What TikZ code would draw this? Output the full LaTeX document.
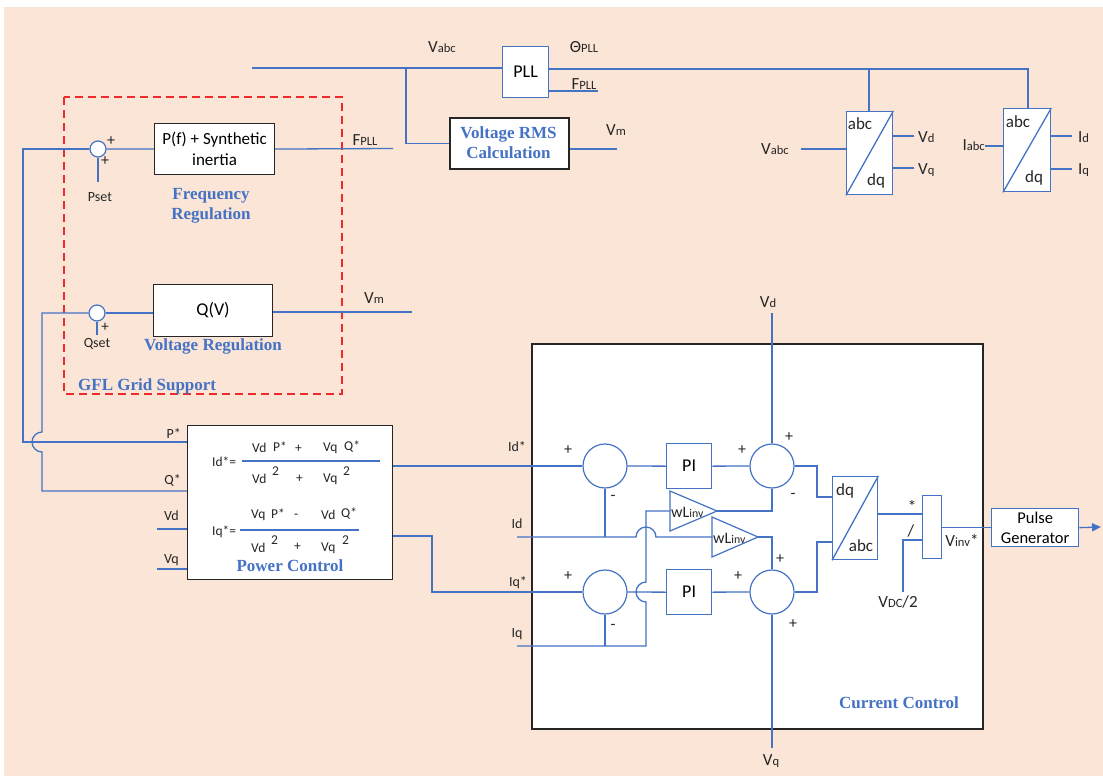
\documentclass[tikz,border=0pt]{standalone}
\usepackage{graphicx}
\usepackage{fontspec}
\setmainfont{Carlito}
\newfontfamily\tnr{Liberation Serif}
\usetikzlibrary{arrows.meta}
\definecolor{peach}{HTML}{FAE5D6}
\definecolor{lb}{HTML}{4472C4}
\definecolor{rd}{HTML}{EE2A2A}
\newcommand\lsub[1]{\scalebox{0.74}{#1}}
\newcommand\fs[1]{\fontsize{#1}{#1}\selectfont}
\begin{document}
\begin{tikzpicture}[x=1pt,y=-1pt,
  wire/.style={draw=lb,line width=1.3pt},
  bbox/.style={draw=lb,line width=1.3pt,fill=white,inner sep=0pt,anchor=north west},
  kbox/.style={draw=black!85,line width=1.3pt,fill=white,inner sep=0pt,anchor=north west,align=center},
  sumc/.style={circle,draw=lb,line width=1.2pt,fill=white,minimum size=44pt,inner sep=0pt},
  smc/.style={circle,draw=lb,line width=1.2pt,fill=white,minimum size=16pt,inner sep=0pt},
  lbl/.style={text=black!85,inner sep=0pt,font=\fs{17}},
  slbl/.style={text=black!85,inner sep=0pt,font=\fs{14}},
  sgn/.style={text=black!85,inner sep=0pt,font=\fs{16}},
  eq/.style={text=black!85,inner sep=0pt,anchor=west,font=\fs{13.5}},
  blu/.style={text=lb,inner sep=0pt,align=center,font=\tnr\bfseries\fs{17}}]
\useasboundingbox (0,0) rectangle (1103,776);
\fill[white] (0,0) rectangle (1103,776);
\fill[peach] (4,7) rectangle (1103,776);

% ---------- top: PLL, RMS, abc/dq ----------
\node[bbox,minimum width=46pt,minimum height=51pt,font=\fs{18}] (pll) at (502,46) {PLL};
\node[kbox,minimum width=119pt,minimum height=51pt,line width=2pt] (rms) at (449,117) {};
\node[blu] (rmst) at (508.5,142.5) {Voltage RMS\\[3pt]Calculation};
\coordinate (vin) at (252,68);
\coordinate (br1) at (406,68);
\draw[wire] (vin) -- (vin -| pll.west);
\draw[wire] (br1) |- (rms.west);
\coordinate (fpllo) at (598,91);
\draw[wire] (pll.east |- fpllo) -- (fpllo);
\coordinate (rmso) at (617,149);
\draw[wire] (rms.east |- rmso) -- (rmso);
\node[lbl] (vabct) at (442,47) {V\lsub{abc}};
\node[lbl] (thpll) at (584,47) {Θ\lsub{PLL}};
\node[lbl] (fpllt) at (584,84) {F\lsub{PLL}};
\node[lbl] (vmt1) at (616,130) {V\lsub{m}};

\node[bbox,minimum width=46pt,minimum height=83pt] (abc1) at (846,111) {};
\draw[lb,line width=1.3pt] (abc1.south west) -- (abc1.north east);
\node[lbl] (abc1a) at (860,124) {abc};
\node[lbl] (abc1d) at (876,181) {dq};
\node[bbox,minimum width=47pt,minimum height=83pt] (abc2) at (1003,108) {};
\draw[lb,line width=1.3pt] (abc2.south west) -- (abc2.north east);
\node[lbl] (abc2a) at (1018,122) {abc};
\node[lbl] (abc2d) at (1034,178) {dq};
\coordinate (th) at (1028,69);
\draw[wire] (pll.east |- th) -- (th) -- (th |- abc2.north);
\coordinate (th1) at (869,69);
\draw[wire] (th1) -- (th1 |- abc1.north);

\coordinate (vabcin) at (801,149);
\draw[wire] (vabcin) -- (vabcin -| abc1.west);
\node[lbl] (vabct2) at (775,149) {V\lsub{abc}};
\coordinate (vdo) at (914,136);
\coordinate (vqo) at (914,168);
\draw[wire] (vdo -| abc1.east) -- (vdo);
\draw[wire] (vqo -| abc1.east) -- (vqo);
\node[lbl,anchor=west] (vdt) at (918,137) {V\lsub{d}};
\node[lbl,anchor=west] (vqt) at (918,170) {V\lsub{q}};
\coordinate (iabcin) at (985,146);
\draw[wire] (iabcin) -- (iabcin -| abc2.west);
\node[lbl,anchor=east] (iabct) at (985,145) {I\lsub{abc}};
\coordinate (ido) at (1072,136);
\coordinate (iqo) at (1072,169);
\draw[wire] (ido -| abc2.east) -- (ido);
\draw[wire] (iqo -| abc2.east) -- (iqo);
\node[lbl,anchor=west] (idt) at (1078,137) {I\lsub{d}};
\node[lbl,anchor=west] (iqt) at (1078,170) {I\lsub{q}};

% ---------- GFL grid support ----------
\draw[rd,line width=1.6pt,dash pattern=on 8pt off 5pt] (64,97) rectangle (342,394);
\node[smc] (s1) at (98,149) {};
\node[kbox,minimum width=120pt,minimum height=51pt,font=\fs{17},line width=1.1pt] (pf) at (154,123) {P(f) + Synthetic\\[4pt]inertia};
\draw[wire] (s1.east) -- (pf.west);
\coordinate (fpllin) at (393,148.5);
\draw[wire] (pf.east) -- (fpllin);
\node[lbl] (fpllt2) at (365,140) {F\lsub{PLL}};
\coordinate (pset) at (98,182);
\draw[wire] (s1.south) -- (pset);
\node[sgn] (sp1) at (111,141) {+};
\node[sgn] (sp2) at (105,161) {+};
\node[slbl] (psett) at (100,197) {Pset};
\node[blu] (freqt) at (211,206) {Frequency\\[3pt]Regulation};

\node[smc] (s2) at (97,313) {};
\node[kbox,minimum width=119pt,minimum height=52pt,font=\fs{18},line width=1.1pt] (qv) at (153,284) {Q(V)};
\draw[wire] (s2.east) -- (qv.west |- s2.east);
\coordinate (vmin) at (412,312);
\draw[wire] (qv.east |- vmin) -- (vmin);
\node[lbl] (vmt2) at (374,298) {V\lsub{m}};
\coordinate (qset) at (97,335);
\draw[wire] (s2.south) -- (qset);
\node[sgn,font=\fs{15}] (sp3) at (105,327.5) {+};
\node[slbl] (qsett) at (97,344) {Qset};
\node[blu] (voltt) at (213,346) {Voltage Regulation};
\node[blu,anchor=west] (gflt) at (78,386) {GFL Grid Support};

% ---------- Power control ----------
\node[kbox,minimum width=205pt,minimum height=154pt] (pc) at (187,425) {};
\draw[wire] (s1.west) -- (23,149) -- (23,442) -- (pc.west |- 0,442);
\draw[wire] (s2.west) -- (42,313) -- (42,432)
  .. controls (36.5,432) and (32,436.5) .. (32,442)
  .. controls (32,447.5) and (36.5,452) .. (42,452)
  -- (42,491) -- (pc.west |- 0,491);
\coordinate (vdin) at (157,529);
\coordinate (vqin) at (157,569);
\draw[wire] (vdin) -- (vdin -| pc.west);
\draw[wire,line width=1.8pt] (vqin) -- (vqin -| pc.west);
\node[slbl,anchor=east] (pst) at (181,434) {P*};
\node[slbl,anchor=east] (qst) at (181,480) {Q*};
\node[slbl,anchor=east] (vdpt) at (179,516) {Vd};
\node[slbl,anchor=east] (vqpt) at (179,560) {Vq};

\node[eq] (ideq) at (212,462) {Id*=};
\draw[lb,line width=1.2pt] (242,461) -- (380,461);
\node[eq] (e1) at (252,448) {Vd};
\node[eq] (e2) at (273,447) {P*};
\node[eq] (e3) at (295,449) {+};
\node[eq] (e4) at (323,448) {Vq};
\node[eq] (e5) at (344,447) {Q*};
\node[eq] (e6) at (252,479) {Vd};
\node[eq] (e7) at (272,471) {2};
\node[eq] (e8) at (296,479) {+};
\node[eq] (e9) at (323,479) {Vq};
\node[eq] (e10) at (343,471) {2};
\node[eq] (iqeq) at (212,532) {Iq*=};
\draw[lb,line width=1.2pt] (240,530) -- (359,530);
\node[eq] (f1) at (251,515) {Vq};
\node[eq] (f2) at (271,514) {P*};
\node[eq] (f3) at (294,516) {-};
\node[eq] (f4) at (321,515) {Vd};
\node[eq] (f5) at (341,514) {Q*};
\node[eq] (f6) at (251,548) {Vd};
\node[eq] (f7) at (271,540) {2};
\node[eq] (f8) at (294,547) {+};
\node[eq] (f9) at (321,548) {Vq};
\node[eq] (f10) at (342,540) {2};
\node[blu] (pct) at (290,566) {Power Control};

% ---------- Current control ----------
\node[kbox,minimum width=451pt,minimum height=385pt,line width=1.6pt] (cc) at (531,343) {};
\node[sumc] (c1) at (605,466) {};
\node[sumc] (c2) at (605,592) {};
\node[sumc] (c3) at (772,466) {};
\node[sumc] (c4) at (772,592) {};
\node[bbox,minimum width=45pt,minimum height=45pt,font=\fs{18}] (pi1) at (666,443) {PI};
\node[bbox,minimum width=45pt,minimum height=45pt,font=\fs{18}] (pi2) at (666,569) {PI};
% triangles
\coordinate (t1a) at (670,491); \coordinate (t1b) at (670,531); \coordinate (t1c) at (717,511);
\coordinate (t2a) at (712,517); \coordinate (t2b) at (712,557); \coordinate (t2c) at (758,537);
\draw[lb,line width=1.2pt,fill=white] (t1a) -- (t1c) -- (t1b) -- cycle;
\draw[lb,line width=1.2pt,fill=white] (t2a) -- (t2c) -- (t2b) -- cycle;
\node[lbl,anchor=west,font=\fs{16}] (wl1) at (671,512) {wL\lsub{inv}};
\node[lbl,anchor=west,font=\fs{16}] (wl2) at (713,538) {wL\lsub{inv}};

\draw[wire] (pc.east |- c1.west) -- (c1.west);
\draw[wire] (pc.east |- 0,536) -- (432,536) -- (432,592) -- (c2.west);
\coordinate (idin) at (517,537);
\coordinate (iqin) at (517,646);
\draw[wire] (idin) -- (636,537)
  .. controls (636,531.5) and (640.5,527) .. (646,527)
  .. controls (651.5,527) and (656,531.5) .. (656,537) -- (t2a |- idin);
\draw[wire] (c1.south) -- (c1.south |- idin);
\draw[wire] (iqin) -- (646,646) -- (646,602)
  .. controls (640.5,602) and (636,597.5) .. (636,592)
  .. controls (636,586.5) and (640.5,582) .. (646,582)
  -- (646,511) -- (t1a |- t1c);
\draw[wire] (c2.south) -- (c2.south |- iqin);
\draw[wire] (c1.east) -- (pi1.west);
\draw[wire] (pi1.east) -- (c3.west);
\draw[wire] (c2.east) -- (pi2.west);
\draw[wire] (pi2.east) -- (c4.west);
\draw[wire] (t1c) -| (c3.south);
\draw[wire] (t2c) -| (c4.north);
\coordinate (vdtop) at (772,313);
\coordinate (vqbot) at (772,748);
\draw[wire] (vdtop) -- (c3.north);
\draw[wire] (c4.south) -- (vqbot);
\node[lbl] (vdtt) at (768,302) {V\lsub{d}};
\node[lbl] (vqbt) at (771,761) {V\lsub{q}};

\node[bbox,minimum width=45pt,minimum height=83pt] (dqabc) at (832,476) {};
\draw[lb,line width=1.3pt] (dqabc.south west) -- (dqabc.north east);
\node[lbl] (dqt) at (845,491) {dq};
\node[lbl] (abct) at (861,546) {abc};
\draw[wire] (c3.east) -- (817,466) -- (817,497) -- (dqabc.west |- 0,497);
\draw[wire] (c4.east) -- (817,592) -- (817,542) -- (dqabc.west |- 0,542);

\node[bbox,minimum width=19pt,minimum height=63pt] (dv) at (922,495) {};
\draw[wire] (dqabc.east |- 0,514) -- (dv.west |- 0,514);
\coordinate (vdc) at (903,592);
\draw[wire] (vdc) -- (903,540) -- (dv.west |- 0,540);
\node[sgn,font=\fs{17}] (mul) at (912,506) {*};
\node[sgn,font=\fs{17}] (divt) at (911,531) {/};
\node[lbl] (vdct) at (898,602) {V\lsub{DC}/2};

\node[bbox,minimum width=87pt,minimum height=38pt,align=center,font=\fs{16.5}] (pg) at (991,508) {Pulse\\[3pt]Generator};
\draw[wire] (dv.east |- pg.west) -- (pg.west);
\coordinate (pgo) at (1101,527);
\draw[wire,-{Triangle[length=9pt,width=8pt]}] (pg.east) -- (pgo);
\node[lbl] (vinvt) at (962,540) {V\lsub{inv}*};

% signs
\node[sgn] (p1) at (568,450) {+};
\node[sgn] (m1) at (613,498) {-};
\node[sgn] (p2) at (568,576) {+};
\node[sgn] (m2) at (613,627) {-};
\node[sgn] (p3) at (742,450) {+};
\node[sgn] (p4) at (789,437) {+};
\node[sgn] (m3) at (793,496) {-};
\node[sgn] (p5) at (780,559) {+};
\node[sgn] (p6) at (738,576) {+};
\node[sgn] (p7) at (793,624) {+};
\node[slbl] (idst) at (517,447) {Id*};
\node[slbl] (idt2) at (517,524) {Id};
\node[slbl] (iqst) at (518,583) {Iq*};
\node[slbl] (iqt2) at (517,634) {Iq};
\node[blu] (cct) at (899,703) {Current Control};
\end{tikzpicture}
\end{document}
